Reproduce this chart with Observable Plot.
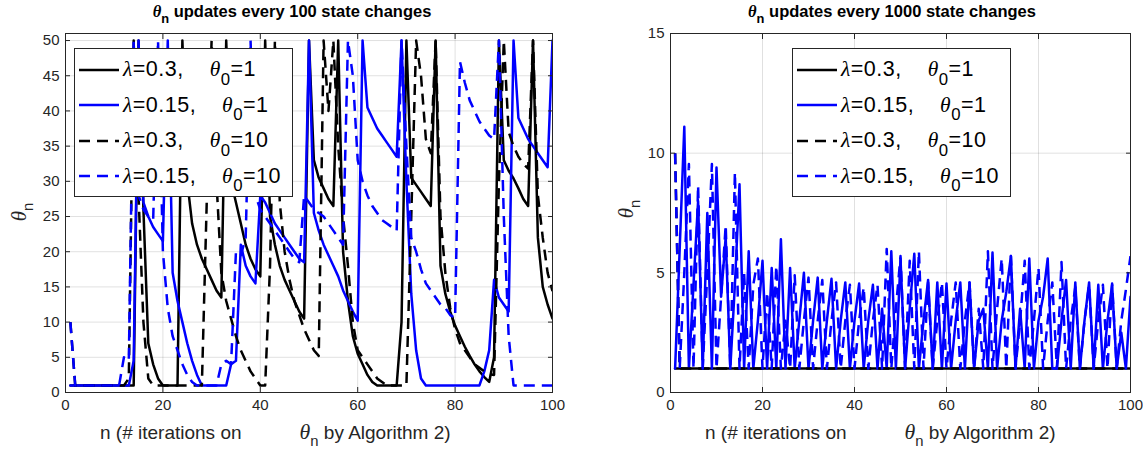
<!DOCTYPE html>
<html><head><meta charset="utf-8">
<script src="https://cdn.jsdelivr.net/npm/d3@7"></script>
<script src="https://cdn.jsdelivr.net/npm/@observablehq/plot@0.6"></script>
<style>
body{margin:0;background:#fff;}
#wrap{position:relative;width:1143px;height:456px;overflow:hidden;font-family:"Liberation Sans",Arial,Helvetica,sans-serif;color:#262626;background:#fff;}
.panel{position:absolute;top:0;}
.title{position:absolute;top:2px;font-weight:bold;font-size:16.5px;white-space:nowrap;transform:translateX(-50%);color:#000;}
.xlab{position:absolute;top:420px;font-size:19px;white-space:nowrap;color:#262626;}
.xlab .gr{font-size:1.15em;}
.ylab{position:absolute;font-size:19px;white-space:nowrap;transform:translate(-50%,-50%) rotate(-90deg);color:#262626;}
.ylab .gr{font-size:1.1em;}
.gr{font-family:"Liberation Serif","Times New Roman",serif;font-style:italic;}
.sub{font-size:0.78em;position:relative;top:0.5em;}
.legend{position:absolute;background:#fff;border:1px solid #262626;box-sizing:border-box;padding-top:3px;z-index:2;}
.lrow{height:35.5px;display:flex;align-items:center;font-size:21.5px;letter-spacing:0.5px;color:#000;white-space:nowrap;}
.lrow svg{margin-left:4px;margin-right:4px;flex:none;}
</style>
</head><body>
<div id="wrap"></div>
<script>
// ---- data ----
const xTicks = [0, 20, 40, 60, 80, 100];
const yTicksLeft = [0, 5, 10, 15, 20, 25, 30, 35, 40, 45, 50];
const yTicksRight = [0, 5, 10, 15];
const lambdas = ["0.3", "0.15", "0.3", "0.15"];
const theta0s = ["1", "1", "10", "10"];
const titleLeft = "updates every 100 state changes";
const titleRight = "updates every 1000 state changes";

// left panel (updates every 100 state changes), n = 1..100
const leftBlackSolid = [
  1,1,1,1,1,1,1,1,1,1,
  1,1,1,1,50,26,7,4,2,1,
  1,1,1,50,30,24,21,19,17.5,16,
  14.5,13.5,50,30,27,24,21,19,17.5,16.5,
  50,25,21,18,16,14.5,13,11.5,10.5,50,
  33,30.5,29,27.5,26.5,50,20,13,8,5.5,
  4,2.5,1.5,1,1,1,1,1,10,50,
  30.5,29.5,28.5,27.5,26.5,50,18,14,11.5,9.5,
  8,6.5,5.2,4,3,2.2,1.5,5,50,33,
  31.5,30.4,29,27.5,26.5,50,22,15,12.5,10.5];
const leftBlueSolid = [
  1,1,1,1,1,1,1,1,1,1,
  1,1,1,4.5,50,27,25,23.5,22.5,21.5,
  50,17,13,10,7,4.5,2.5,1,1,1,
  1,1,1,4,4.5,21,18,16.5,15.5,28,
  27,25.5,24,23,22,21,20,19,18.5,50,
  25.5,23,21,19.5,18,16.5,14.5,13,11.5,10.2,
  50,40.5,39,37.5,36.5,35.5,34.5,33.5,50,30,
  14,6,2,1,1,1,1,1,1,1,
  1,1,1,1,1,3,6,16,13.5,12.5,
  11.5,50,39,37.5,36,35,34,33,32,50];
const leftBlackDashed = [
  10,1,1,1,1,1,1,1,1,1,
  1,1,2,50,28,10,2,1,1,1,
  1,1,1,1,1,1,1,1,27,50,
  30,17,13,10.5,8,6,4.5,3,2,1,
  1,18,50,27,20,16,13,11,9,7.5,
  6,5.2,50,40,50,35,25,18,10,6,
  5,4,3,2,1.5,1,1,1,1,1,
  25,50,45,36,34,50,25,17,12,9,
  7,6,5,4,3.5,3,2.6,2.5,30,50,
  37,35,33.5,32.5,31.8,50,28,22,17,14.4];
const leftBlueDashed = [
  10,1,1,1,1,1,1,1,1,1,
  1,5,4.5,50,28,26,25,24.5,50,20,
  12,8,6,4,2.5,1.5,1,1,1,1,
  1,4,4.5,4,20,19.5,22,50,28,26,
  25,24,23,22,21,20,19,18.5,28,27,
  26,25.5,25,24,23,22,21,50,45,33,
  30,28,26.5,25.5,24.5,24,23.5,23,50,35,
  22,20,17.5,15.5,14.5,13.5,12.5,12,11,10.6,
  47,44,41.5,40,38.5,37.5,36.5,36,50,25,
  8,1,1,1,1,1,1,1,1,1];

// right panel (updates every 1000 state changes)
const rightBlackSolid = [
  1,1,1,1,1,1,1,1,1,1,
  1,1,1,1,1,1,1,1,1,1,
  1,1,1,1,1,1,1,1,1,1,
  1,1,1,1,1,1,1,1,1,1,
  1,1,1,1,1,1,1,1,1,1,
  1,1,1,1,1,1,1,1,1,1,
  1,1,1,1,1,1,1,1,1,1,
  1,1,1,1,1,1,1,1,1,1,
  1,1,1,1,1,1,1,1,1,1,
  1,1,1,1,1,1,1,1,1,1];
const rightBlueSolid = [
  1,6,11.1,1,4.5,8,1,7.5,1,9.4,
  4,6.5,1,4.5,8.7,1,5.9,1,3,5.5,
  1,5.2,1,6.4,1,5.2,1,3,5.0,1,
  3,4.8,1,3,4.75,1,3,4.6,1,3,
  4.55,1,3,4.5,1,3.5,1,5.9,1,5.6,
  1,3.5,5.8,1,3,4.7,1,4.6,1,4.55,
  1,3,4.6,1,4.6,1,3,3.5,1,5.85,
  1,3,4.2,5.7,1,3.5,1,5.6,1,3,
  4,5.6,1,1,3,4.7,1,4.6,1,3,
  4.6,1,4.5,1,3,4.5,1,2.5,1,4.0];
const rightBlackDashed = [
  10,1,1,1,1,1,1,1,1,1,
  1,1,1,1,1,1,1,1,1,1,
  1,1,1,1,1,1,1,1,1,1,
  1,1,1,1,1,1,1,1,1,1,
  1,1,1,1,1,1,1,1,1,1,
  1,1,1,1,1,1,1,1,1,1,
  1,1,1,1,1,1,1,1,1,1,
  1,1,1,1,1,1,1,1,1,1,
  1,1,1,1,1,1,1,1,1,1,
  1,1,1,1,1,1,1,1,1,1];
const rightBlueDashed = [
  10,1,5,9.55,1,8.65,1,5,9.55,1,
  4,7,1,9.2,1,5,1,4.5,5.6,1,
  4.2,1,5.3,1,3,1,4.9,1,3,4.8,
  1,3,4.7,1,3,4.6,1,3,4.5,1,
  3,4.4,1,3,4.5,1,6,1,3.5,5.7,
  1,5.5,1,5.9,1,4.6,1,3,4.6,1,
  3,4.6,1,3,4.6,1,3.5,1,5.9,1,
  3.5,5.6,1,5.7,1,3,5.5,1,3,5.2,
  1,3,4.6,1,5.45,1,3,4.4,1,3,
  4.5,1,3,4.5,1,4.55,1,3,4.3,5.7];

// ---- styles ----
const seriesColors = ["#000000", "#0000ff", "#000000", "#0000ff"];
const seriesDashes = [null, null, "11,7", "11,7"];
const LW = 2.5;

function makePanel({width, marginLeft, marginRight, yDomain, yTicks, series}) {
  const marks = [
    Plot.gridX(xTicks, {stroke: "#000", strokeOpacity: 0.12}),
    Plot.gridY(yTicks, {stroke: "#000", strokeOpacity: 0.12})
  ];
  series.forEach((vals, i) => {
    const rows = vals.map((v, j) => ({n: j + 1, v}));
    const o = {x: "n", y: "v", stroke: seriesColors[i], strokeWidth: LW,
      strokeLinejoin: "round", strokeLinecap: seriesDashes[i] ? "butt" : "round", clip: true};
    if (seriesDashes[i]) o.strokeDasharray = seriesDashes[i];
    marks.push(Plot.line(rows, o));
  });
  marks.push(
    Plot.axisX(xTicks, {anchor: "bottom", tickSize: 0, tickPadding: 7, label: null}),
    Plot.axisX(xTicks, {anchor: "bottom", tickSize: -5, tickFormat: () => "", label: null}),
    Plot.axisX(xTicks, {anchor: "top", tickSize: -5, tickFormat: () => "", label: null}),
    Plot.axisY(yTicks, {anchor: "left", tickSize: 0, tickPadding: 6, label: null}),
    Plot.axisY(yTicks, {anchor: "left", tickSize: -5, tickFormat: () => "", label: null}),
    Plot.axisY(yTicks, {anchor: "right", tickSize: -5, tickFormat: () => "", label: null}),
    Plot.frame({stroke: "#262626", strokeWidth: 1})
  );
  return Plot.plot({
    width, height: 456, marginLeft, marginRight, marginTop: 33, marginBottom: 64,
    x: {domain: [0, 100]},
    y: {domain: yDomain},
    style: {fontFamily: "'Liberation Sans', Arial, Helvetica, sans-serif", fontSize: "15px", color: "#262626", background: "transparent", overflow: "visible"},
    marks
  });
}

const wrap = document.getElementById("wrap");

function place(el, left) {
  el.classList.add("panel");
  el.style.left = left + "px";
  wrap.appendChild(el);
}

place(makePanel({width: 570, marginLeft: 65, marginRight: 18, yDomain: [0, 51], yTicks: yTicksLeft,
  series: [leftBlackSolid, leftBlueSolid, leftBlackDashed, leftBlueDashed]}), 0);
place(makePanel({width: 573, marginLeft: 100, marginRight: 13, yDomain: [0, 15], yTicks: yTicksRight,
  series: [rightBlackSolid, rightBlueSolid, rightBlackDashed, rightBlueDashed]}), 570);

function addHTML(cls, html, styles) {
  const d = document.createElement("div");
  d.className = cls;
  d.innerHTML = html;
  Object.assign(d.style, styles);
  wrap.appendChild(d);
  return d;
}
const thetaN = '<span class="gr">θ</span><span class="sub">n</span>';
addHTML("title", thetaN + " " + titleLeft, {left: "292px"});
addHTML("title", thetaN + " " + titleRight, {left: "892px"});
const xlabHTML = 'n (# iterations on&nbsp;&nbsp;&nbsp;&nbsp;&nbsp;&nbsp;&nbsp;&nbsp;&nbsp;&nbsp;&nbsp;' + thetaN + ' by Algorithm 2)';
addHTML("xlab", xlabHTML, {left: "100px"});
addHTML("xlab", xlabHTML, {left: "705px"});
addHTML("ylab", thetaN, {left: "19px", top: "212px"});
addHTML("ylab", thetaN, {left: "626px", top: "209px"});

function legend(left, top) {
  let html = "";
  lambdas.forEach((lam, i) => {
    const dash = seriesDashes[i] ? `stroke-dasharray="11,7"` : "";
    html += `<div class="lrow"><svg width="40" height="8"><line x1="0" y1="4" x2="40" y2="4" stroke="${seriesColors[i]}" stroke-width="${LW}" ${dash}/></svg>` +
      `<span><span class="gr">λ</span>=${lam},&nbsp;&nbsp;&nbsp;&nbsp;<span class="gr">θ</span><span class="sub">0</span>=${theta0s[i]}</span></div>`;
  });
  addHTML("legend", html, {left: left + "px", top: top + "px", width: "219px", height: "149px"});
}
legend(74, 48);
legend(792, 48);
</script>
</body></html>
